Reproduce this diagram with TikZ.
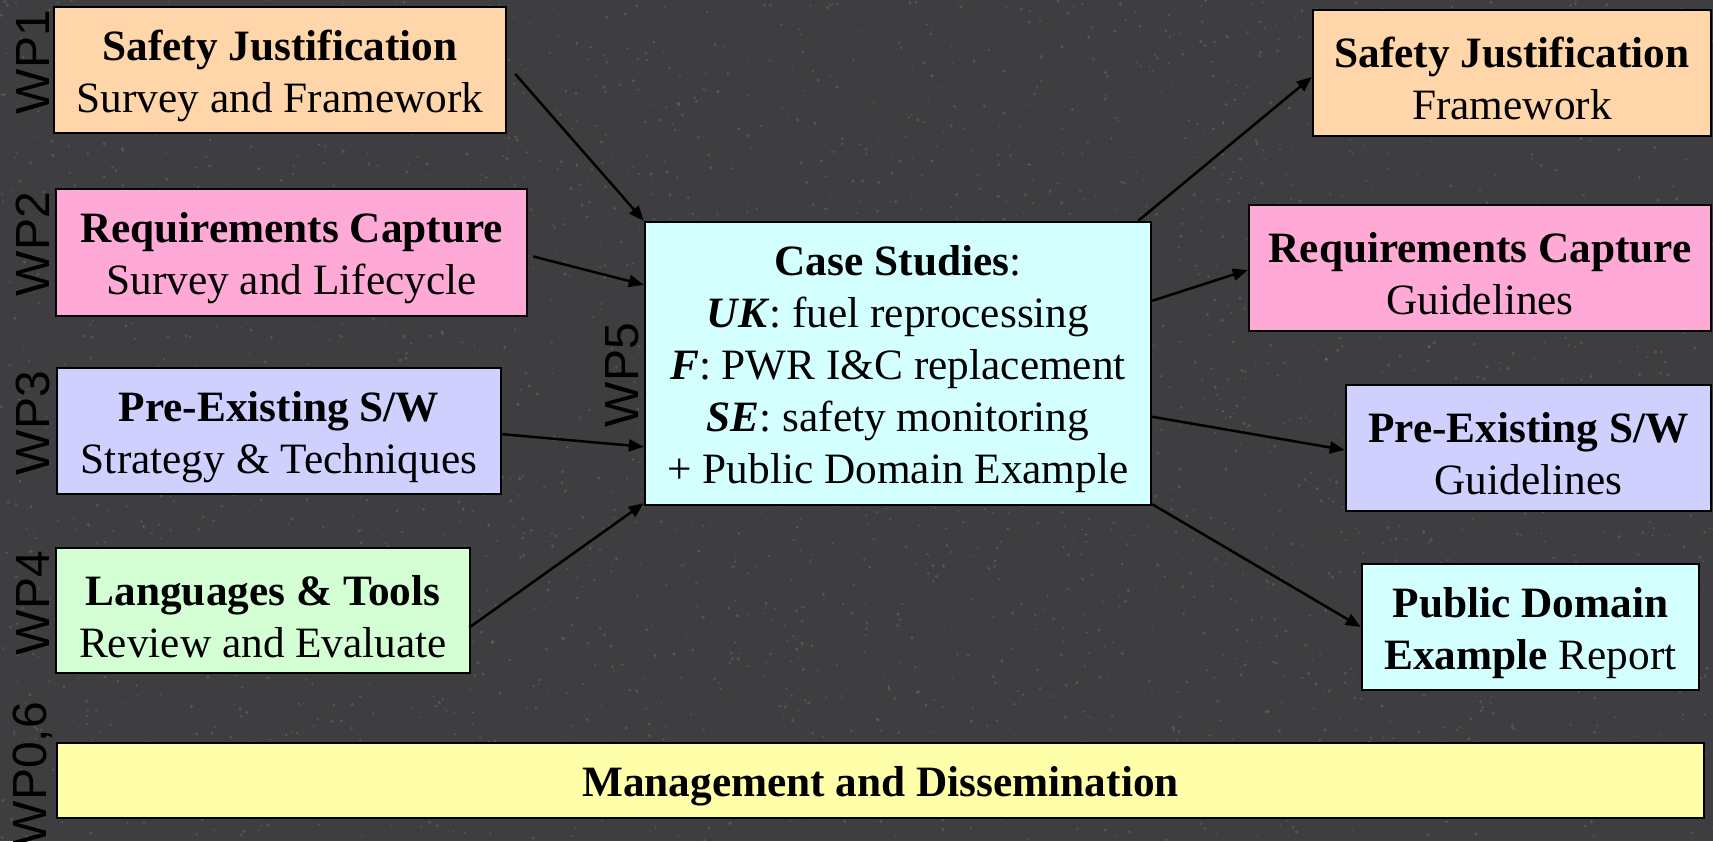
\documentclass[tikz,border=0pt]{standalone}
\usepackage{fontspec}
\setmainfont{Liberation Serif}
\newfontfamily\wpfont{Liberation Sans}
\usetikzlibrary{arrows.meta,calc}

\definecolor{bgstone}{RGB}{62,62,64}
\definecolor{peach}{RGB}{255,214,170}
\definecolor{pinkbox}{RGB}{255,170,214}
\definecolor{lavender}{RGB}{208,208,255}
\definecolor{mint}{RGB}{212,255,212}
\definecolor{icecyan}{RGB}{212,255,255}
\definecolor{paleyellow}{RGB}{255,255,170}

% tall strut on the first line lowers the text block a little inside its box
\newcommand{\toppad}{\rule{0pt}{42pt}}

\tikzset{
  wpbox/.style={draw=black, line width=2.5pt, inner sep=0pt, align=center,
    font=\fontsize{43.3}{52}\selectfont},
  wplabel/.style={rotate=90, inner sep=0pt, text=black,
    font=\wpfont\fontsize{48}{50}\selectfont},
  flow/.style={line width=2.5pt, -{Triangle[length=15pt,width=12pt]}},
  speck/.style={fill=white, opacity=0.12}
}

\begin{document}
\begin{tikzpicture}[x=1pt, y=-1pt]
  \useasboundingbox (0,0) rectangle (1713,841);
  % stone background
  \fill[bgstone] (0,0) rectangle (1713,841);
  \pgfmathsetseed{11}
  \foreach \i in {1,...,3400} {
    \fill[speck] (rnd*1713, rnd*841) circle ({0.6+rnd*1.2});
  }

  % work package inputs
  \node[wpbox, fill=peach, minimum width=452pt, minimum height=126pt] (b1) at (280,70)
    {\toppad\textbf{Safety Justification}\\Survey and Framework};
  \node[wpbox, fill=pinkbox, minimum width=471pt, minimum height=127pt] (b2) at (291.5,252.5)
    {\toppad\textbf{Requirements Capture}\\Survey and Lifecycle};
  \node[wpbox, fill=lavender, minimum width=444pt, minimum height=126pt] (b3) at (279,431)
    {\toppad\textbf{Pre-Existing S/W}\\Strategy \& Techniques};
  \node[wpbox, fill=mint, minimum width=414pt, minimum height=125pt] (b4) at (263,610.5)
    {\toppad\textbf{Languages \& Tools}\\Review and Evaluate};

  % case studies
  \node[wpbox, fill=icecyan, minimum width=506pt, minimum height=283pt] (c5) at (898,363.5)
    {\toppad\textbf{Case Studies}:\\
     \textbf{\textit{UK}}: fuel reprocessing\\
     \textbf{\textit{F}}: PWR I\&C replacement\\
     \textbf{\textit{SE}}: safety monitoring\\
     + Public Domain Example};

  % outputs
  \node[wpbox, fill=peach, minimum width=398pt, minimum height=126pt] (r1) at (1512,73)
    {\toppad\textbf{Safety Justification}\\Framework};
  \node[wpbox, fill=pinkbox, minimum width=462pt, minimum height=126pt] (r2) at (1480,268)
    {\toppad\textbf{Requirements Capture}\\Guidelines};
  \node[wpbox, fill=lavender, minimum width=365pt, minimum height=126pt] (r3) at (1528.5,448)
    {\toppad\textbf{Pre-Existing S/W}\\Guidelines};
  \node[wpbox, fill=icecyan, minimum width=337pt, minimum height=126pt] (r4) at (1530.5,627)
    {\toppad\textbf{Public Domain}\\\textbf{Example} Report};

  % management bar
  \node[wpbox, fill=paleyellow, minimum width=1647pt, minimum height=75pt] (m) at (880.5,780.5)
    {\toppad\textbf{Management and Dissemination}};

  % work package labels
  \node[wplabel] (l1) at (33,62) {WP1};
  \node[wplabel] (l2) at (33,244) {WP2};
  \node[wplabel] (l3) at (33,423) {WP3};
  \node[wplabel] (l4) at (33,603) {WP4};
  \node[wplabel] (l5) at (622,375) {WP5};
  \node[wplabel] (l0) at (33,774) {WP0,6};

  % inputs into the case studies
  \draw[flow] ($(b1.east)+(8,4)$) -- (c5.north west);
  \draw[flow] ($(b2.east)+(5,4)$) -- ($(c5.north west)+(0,64)$);
  \draw[flow] ($(b3.east)+(-2,3)$) -- ($(c5.north west)+(0,226)$);
  \draw[flow] ($(b4.east)+(-2,17)$) -- ($(c5.south west)+(0,-3)$);

  % results out of the case studies
  \draw[flow] ($(c5.north east)+(-14,0)$) -- ($(r1.west)+(0,4)$);
  \draw[flow] ($(c5.north east)+(0,80)$) -- ($(r2.west)+(0,2)$);
  \draw[flow] ($(c5.north east)+(0,196)$) -- ($(r3.west)+(0,2)$);
  \draw[flow] ($(c5.south east)+(0,-2)$) -- (r4.west);
\end{tikzpicture}
\end{document}
